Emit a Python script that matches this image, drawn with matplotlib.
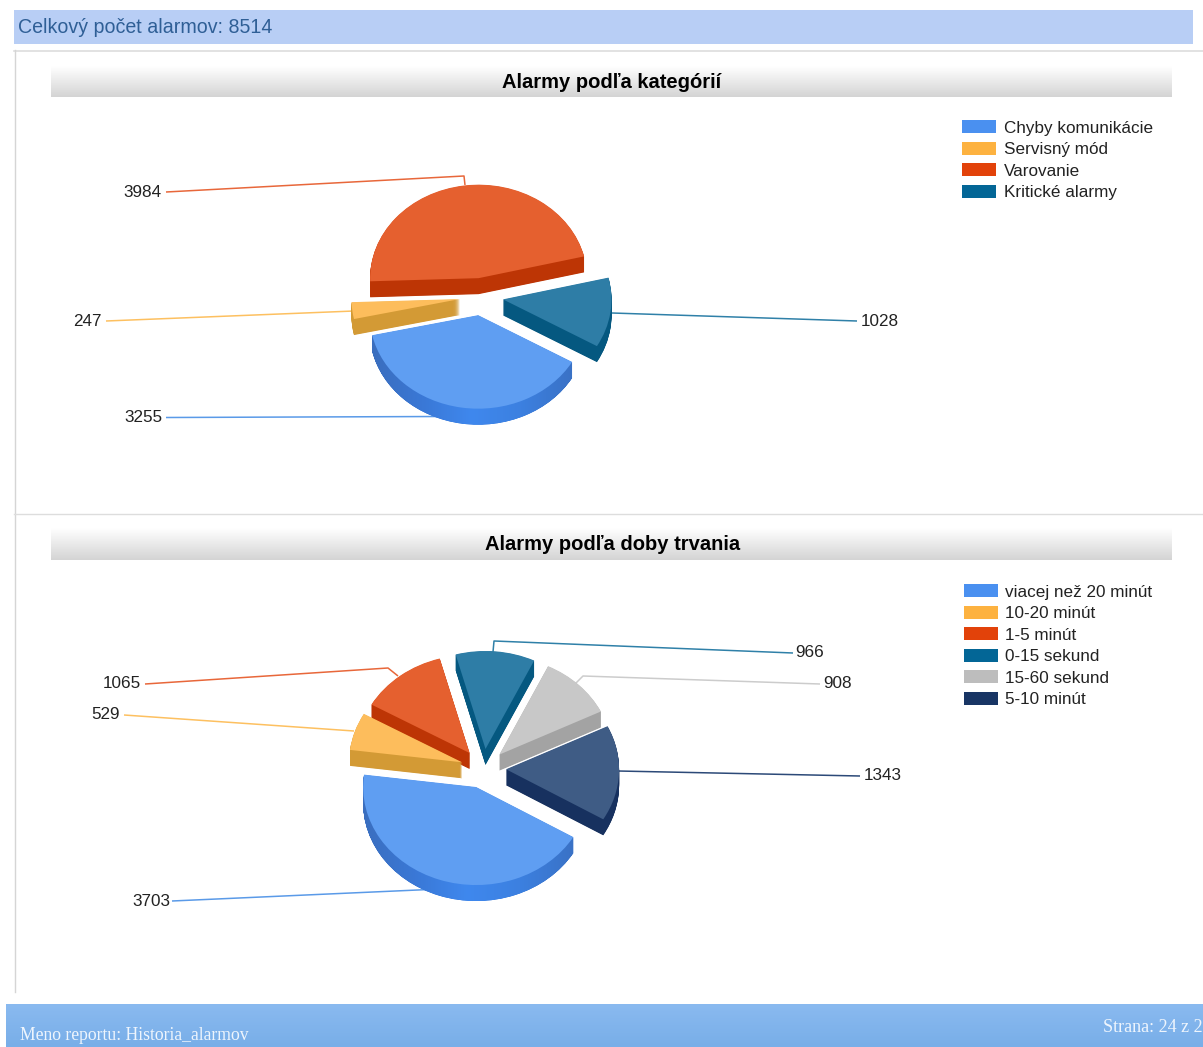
import numpy as np
import matplotlib
matplotlib.use("Agg")
import matplotlib.pyplot as plt
from matplotlib.colors import LinearSegmentedColormap, to_rgb
from matplotlib.patches import Rectangle
from matplotlib.path import Path

# Data

TOTAL_LABEL = "Celkový počet alarmov: 8514"

TITLE_1 = "Alarmy podľa kategórií"
CATEGORIES_1 = ["Chyby komunikácie", "Servisný mód", "Varovanie", "Kritické alarmy"]
VALUES_1 = [3255, 247, 3984, 1028]

TITLE_2 = "Alarmy podľa doby trvania"
CATEGORIES_2 = ["viacej než 20 minút", "10-20 minút", "1-5 minút", "0-15 sekund", "15-60 sekund", "5-10 minút"]
VALUES_2 = [3703, 529, 1065, 966, 908, 1343]

# Styles: same colour slot order in both pies

TOP_COLORS = ["#5f9ef2", "#fdbd5c", "#e5602f", "#2e7da6", "#c8c8c8", "#3f5c85"]
WALL_COLORS = ["#3a7ad6", "#d39a35", "#bd3505", "#055880", "#a3a3a3", "#17315f"]
LEGEND_COLORS = ["#4a90f0", "#fdb240", "#e2420a", "#036696", "#bdbdbd", "#183564"]
LINE_COLORS = ["#5a9ae8", "#fdc060", "#e8673a", "#2f80a8", "#cccccc", "#2c4a78"]
BLUE_WALL = LinearSegmentedColormap.from_list("wall", ["#3a6ebe", "#3a78d6", "#3f88ee", "#3c80e0", "#3a72c6"])

SANS = "Liberation Sans"
SERIF = "Liberation Serif"

# Layout, in pixels of the picture

W, H = 1203, 1047
DEPTH = 16
EXPLODE = 0.2

# value label: (x, y, align), then the leader line points
LEADERS_1 = [
    ((162, 417, "right"), [(166, 417.5), (440, 416.5)]),
    ((102, 321, "right"), [(106, 321), (354, 311)]),
    ((162, 192, "right"), [(166, 192), (464, 176), (465, 185)]),
    ((861, 321, "left"), [(857, 321), (612, 313)]),
]
LEADERS_2 = [
    ((170, 901, "right"), [(172, 901), (440, 889)]),
    ((120, 714, "right"), [(124, 715), (354, 731)]),
    ((141, 683, "right"), [(145, 684), (388, 668), (398, 676)]),
    ((795, 652, "left"), [(793, 653), (494, 641), (493, 652)]),
    ((823, 683, "left"), [(820, 684), (583, 676), (576, 683)]),
    ((864, 775, "left"), [(860, 776), (618, 771)]),
]

fig = plt.figure(figsize=(W / 100, H / 100), dpi=100, facecolor="white")

# Page chrome

page = fig.add_axes([0, 0, 1, 1])
page.axis("off")


def gradient(x0, x1, y0, y1, top, bottom):
    t = np.linspace(0, 1, 64)[:, None, None]
    img = (1 - t) * np.array(to_rgb(top)) + t * np.array(to_rgb(bottom))
    page.imshow(img, extent=(x0, x1, y1, y0), aspect="auto", interpolation="bilinear", zorder=1)


page.add_patch(Rectangle((14, 10), 1179, 34, facecolor="#b8cef5", edgecolor="none"))
page.text(18, 27.5, TOTAL_LABEL, family=SANS, fontsize=14.1, color="#2f5f96", va="center")

page.plot([14, 1203], [50.5, 50.5], color="#dddddd", lw=1.2)
page.plot([14.5, 14.5], [50, 992], color="#d5d5d5", lw=1)
page.plot([14, 1203], [513.5, 513.5], color="#dddddd", lw=1)

for y0, y1, title, tx in [(66, 97, TITLE_1, 611.5), (528, 560, TITLE_2, 612.5)]:
    gradient(51, 1172, y0, y1, "#ffffff", "#d4d4d4")
    page.text(tx, y0 + 16, title, family=SANS, fontsize=14.5, weight="bold", color="black",
              ha="center", va="center", zorder=3)

gradient(6, 1203, 1004, 1047, "#8abaf0", "#78aee8")
page.text(20, 1035.5, "Meno reportu: Historia_alarmov", family=SERIF, fontsize=12.7, color="#eef5fd",
          va="center", zorder=3)
page.text(1103, 1027, "Strana: 24 z 2", family=SERIF, fontsize=13, color="#eef5fd",
          va="center", zorder=3)

# Legends


def draw_legend(categories, x0, x_text, y_first, step):
    for i, name in enumerate(categories):
        y = y_first + i * step
        page.add_patch(Rectangle((x0, y - 6.5), 34, 13, facecolor=LEGEND_COLORS[i], edgecolor="none"))
        page.text(x_text, y + 1.5, name, family=SANS, fontsize=12.3, color="#222222", va="center")


draw_legend(CATEGORIES_1, 962, 1004, 126.5, 21.5)
draw_legend(CATEGORIES_2, 964, 1005, 590.5, 21.6)

# Leader lines and value labels


def draw_leaders(leaders, values):
    for i, (label, points) in enumerate(leaders):
        xs = [p[0] for p in points]
        ys = [p[1] for p in points]
        page.plot(xs, ys, color=LINE_COLORS[i], lw=1.1, solid_capstyle="butt")
        page.text(label[0], label[1] + 0.5, str(values[i]), family=SANS, fontsize=12.3, color="#222222",
                  ha=label[2], va="center")


draw_leaders(LEADERS_1, VALUES_1)
draw_leaders(LEADERS_2, VALUES_2)

page.set_xlim(0, W)
page.set_ylim(H, 0)

# Pies


def draw_pie(values, cx, cy, rx, ry, start):
    pad = 1.6
    ax = fig.add_axes([(cx - pad * rx) / W, 1 - (cy + pad * ry) / H, 2 * pad * rx / W, 2 * pad * ry / H])
    ax.patch.set_alpha(0)
    n = len(values)
    explode = [EXPLODE] * n
    wall_paths = []
    for d in np.arange(DEPTH, 0, -0.5):
        wedges, _ = ax.pie(values, explode=explode, colors=WALL_COLORS[:n], startangle=start,
                           counterclock=False, center=(0, -d / ry), wedgeprops={"linewidth": 0})
        wall_paths.append(wedges[0].get_path())

    # blue wall is lighter around the front
    x0, x1 = wall_paths[0].vertices[:, 0].min(), wall_paths[0].vertices[:, 0].max()
    shade = ax.imshow(np.linspace(0, 1, 128)[None, :], cmap=BLUE_WALL, extent=(x0, x1, -1.6, 1.6),
                      aspect="auto", zorder=1.5)
    shade.set_clip_path(Path.make_compound_path(*wall_paths), transform=ax.transData)

    wedges, _ = ax.pie(values, explode=explode, colors=TOP_COLORS[:n], startangle=start,
                       counterclock=False, wedgeprops={"linewidth": 0})
    for w in wedges:
        w.set_zorder(2)
    ax.set_aspect("auto")
    ax.set_xlim(-pad, pad)
    ax.set_ylim(-pad, pad)


draw_pie(VALUES_1, 481.5, 296.7, 108.5, 93.5, -30)
draw_pie(VALUES_2, 483.5, 768.5, 113, 98, -30.7)

fig.savefig("out.png", dpi=100)
